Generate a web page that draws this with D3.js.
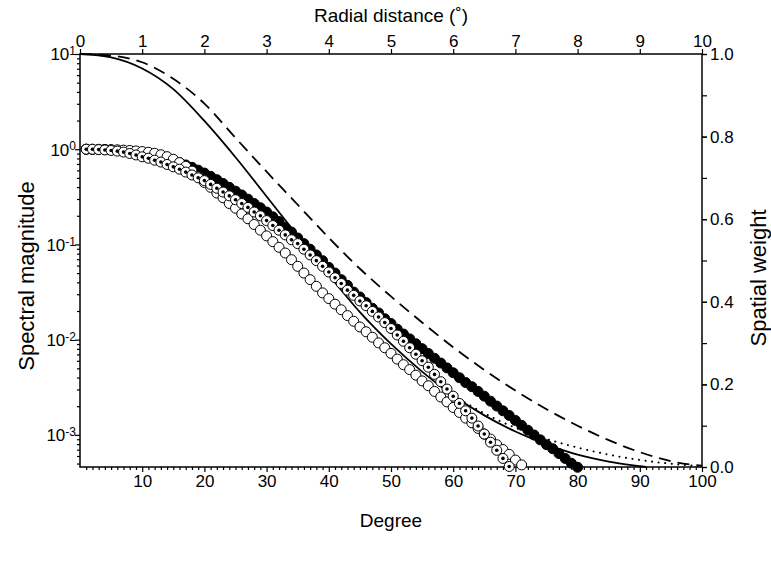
<!DOCTYPE html>
<html>
<head>
<meta charset="utf-8">
<script src="https://cdn.jsdelivr.net/npm/d3@7"></script>
<style>
  body { margin: 0; background: #fff; }
  text { font-family: "Liberation Sans", Arial, Helvetica, sans-serif; fill: #000; }
</style>
</head>
<body>
<svg id="chart" width="771" height="563"></svg>
<script>
// spectral magnitudes, one value per degree starting at degree 1
var filledMag = [1.000, 0.998, 0.995, 0.991, 0.984, 0.975, 0.964, 0.951, 0.933, 0.912,
    0.891, 0.865, 0.836, 0.804, 0.767, 0.724, 0.684, 0.646, 0.603, 0.562,
    0.519, 0.479, 0.437, 0.398, 0.363, 0.331, 0.299, 0.269, 0.243, 0.219,
    0.195, 0.174, 0.151, 0.135, 0.117, 0.102, 0.0891, 0.0776, 0.0676, 0.0575,
    0.0501, 0.0427, 0.0372, 0.0316, 0.0281, 0.0245, 0.0214, 0.0191, 0.0166, 0.0148,
    0.0129, 0.01146, 0.01019, 0.00906, 0.00805, 0.00716, 0.00637, 0.00568, 0.00505, 0.00449,
    0.00399, 0.00355, 0.00321, 0.00286, 0.00255, 0.00226, 0.00201, 0.00179, 0.00160, 0.00142,
    0.00126, 0.00112, 0.000998, 0.000887, 0.000789, 0.000716, 0.000637, 0.000566, 0.000504, 0.000457];

var dottedMag = [1.000, 0.998, 0.991, 0.982, 0.971, 0.955, 0.933, 0.902, 0.871, 0.832,
    0.804, 0.767, 0.733, 0.692, 0.653, 0.617, 0.575, 0.537, 0.501, 0.468,
    0.427, 0.389, 0.355, 0.324, 0.295, 0.269, 0.245, 0.219, 0.200, 0.178,
    0.158, 0.141, 0.126, 0.112, 0.102, 0.0891, 0.0776, 0.0676, 0.0589, 0.0513,
    0.0447, 0.0389, 0.0331, 0.0292, 0.0255, 0.0227, 0.0198, 0.0173, 0.0151, 0.0131,
    0.0112, 0.00961, 0.00822, 0.00703, 0.00601, 0.00514, 0.00432, 0.00362, 0.00303, 0.00255,
    0.00214, 0.00179, 0.00150, 0.00124, 0.00102, 0.000838, 0.000689, 0.000566, 0.000466];

var openMag = [1.000, 1.000, 0.998, 0.995, 0.991, 0.986, 0.979, 0.971, 0.959, 0.946,
    0.929, 0.906, 0.875, 0.836, 0.785, 0.724, 0.661, 0.589, 0.513, 0.447,
    0.398, 0.347, 0.309, 0.269, 0.240, 0.209, 0.186, 0.162, 0.141, 0.123,
    0.107, 0.0933, 0.0813, 0.0692, 0.0589, 0.0501, 0.0427, 0.0363, 0.0310, 0.0270,
    0.0236, 0.0206, 0.0179, 0.0156, 0.0136, 0.0121, 0.0106, 0.00925, 0.00822, 0.00718,
    0.00625, 0.00546, 0.00485, 0.00424, 0.00369, 0.00328, 0.00286, 0.00250, 0.00222, 0.00194,
    0.00172, 0.00150, 0.00134, 0.00117, 0.00102, 0.000904, 0.000789, 0.000702, 0.000624, 0.000544,
    0.000484];

// spatial weights against radial distance (degrees)
var solidR = [0, 0.5, 1, 1.5, 2, 2.5, 3, 3.5, 4, 4.5, 5, 5.5, 6, 6.5, 7, 7.5, 8, 8.5, 9, 9.1];
var solidW = [1.0, 0.992, 0.965, 0.915, 0.838, 0.75, 0.655, 0.56, 0.465, 0.375, 0.298, 0.231, 0.173, 0.125, 0.086, 0.055, 0.03, 0.013, 0.002, 0.0];
var dashR = [0, 0.5, 1, 1.5, 2, 2.5, 3, 3.5, 4, 4.5, 5, 5.5, 6, 6.5, 7, 7.5, 8, 8.5, 9, 9.5, 10];
var dashW = [1.0, 0.996, 0.98, 0.94, 0.88, 0.797, 0.715, 0.635, 0.555, 0.48, 0.413, 0.35, 0.29, 0.235, 0.185, 0.14, 0.10, 0.065, 0.036, 0.014, 0.003];
var dotR = [6, 6.5, 7, 7.5, 8, 8.5, 9, 9.5, 10];
var dotW = [0.173, 0.13, 0.095, 0.068, 0.047, 0.03, 0.017, 0.008, 0.002];

var degreeTicks = [10, 20, 30, 40, 50, 60, 70, 80, 90, 100];
var radialTicks = [0, 1, 2, 3, 4, 5, 6, 7, 8, 9, 10];
var weightTicks = [0, 0.2, 0.4, 0.6, 0.8, 1.0];
var magExponents = [1, 0, -1, -2, -3];

var svg = d3.select('#chart');
var margin = {left: 80, right: 69, top: 54, bottom: 96};
var width = 771, height = 563;
var innerW = width - margin.left - margin.right;
var innerH = height - margin.top - margin.bottom;

var g = svg.append('g').attr('transform', `translate(${margin.left},${margin.top})`);

var xDeg = d3.scaleLinear().domain([0, 100]).range([0, innerW]);
var xRad = d3.scaleLinear().domain([0, 10]).range([0, innerW]);
var yMag = d3.scaleLog().domain([4.6e-4, 10]).range([innerH, 0]);
var yW = d3.scaleLinear().domain([0, 1]).range([innerH, 0]);

// minor ticks on the log axis
var logMinor = [];
[-4, -3, -2, -1, 0].forEach(e => {
    [2, 3, 4, 5, 6, 7, 8, 9].forEach(m => {
        var v = m * Math.pow(10, e);
        if (v >= 4.6e-4 && v < 10) logMinor.push(v);
    });
});

function styleAxis(sel) {
    sel.select('.domain').remove();
    sel.selectAll('.tick line').attr('stroke', '#000').attr('stroke-width', 1.2);
    sel.selectAll('.tick text').style('font-size', '17px').attr('fill', '#000');
}

g.append('g').call(d3.axisLeft(yMag).tickValues(logMinor).tickSize(3).tickFormat('')).call(styleAxis);
var leftAxis = g.append('g').call(d3.axisLeft(yMag).tickValues(magExponents.map(e => Math.pow(10, e))).tickSize(5).tickFormat('')).call(styleAxis);
leftAxis.selectAll('.tick').each(function (d, i) {
    var t = d3.select(this).append('text')
        .attr('x', -4).attr('dy', '0.35em')
        .attr('text-anchor', 'end')
        .style('font-size', '17px');
    t.append('tspan').text('10');
    t.append('tspan').attr('dy', '-0.45em').style('font-size', '12px').text(magExponents[i] < 0 ? '-' + (-magExponents[i]) : magExponents[i]);
});

var bottomMinor = d3.range(1, 100).filter(d => d % 10 !== 0);
g.append('g').attr('transform', `translate(0,${innerH})`)
    .call(d3.axisBottom(xDeg).tickValues(bottomMinor).tickSize(3).tickFormat('')).call(styleAxis);
g.append('g').attr('transform', `translate(0,${innerH})`)
    .call(d3.axisBottom(xDeg).tickValues(degreeTicks).tickSize(5).tickPadding(3)).call(styleAxis);

g.append('g').call(d3.axisTop(xRad).tickValues(radialTicks).tickSize(5).tickPadding(2)).call(styleAxis);

g.append('g').attr('transform', `translate(${innerW},0)`)
    .call(d3.axisRight(yW).ticks(10).tickSize(5).tickFormat('')).call(styleAxis);
g.append('g').attr('transform', `translate(${innerW},0)`)
    .call(d3.axisRight(yW).tickValues(weightTicks).tickSize(5).tickPadding(3).tickFormat(d3.format('.1f'))).call(styleAxis);

// frame
g.append('rect').attr('width', innerW).attr('height', innerH)
    .attr('fill', 'none').attr('stroke', '#000').attr('stroke-width', 1.5);

// titles
svg.append('text').attr('x', margin.left + innerW / 2).attr('y', 22)
    .attr('text-anchor', 'middle').style('font-size', '19px').text('Radial distance (\u02DA)');
svg.append('text').attr('x', margin.left + innerW / 2).attr('y', 527)
    .attr('text-anchor', 'middle').style('font-size', '19px').text('Degree');
svg.append('text').attr('transform', 'translate(34,276) rotate(-90)')
    .attr('text-anchor', 'middle').style('font-size', '22px').text('Spectral magnitude');
svg.append('text').attr('transform', 'translate(766,278) rotate(-90)')
    .attr('text-anchor', 'middle').style('font-size', '22px').text('Spatial weight');

// weight curves
var wLine = d3.line().x(d => xRad(d[0])).y(d => yW(d[1])).curve(d3.curveMonotoneX);
var plot = g.append('g');
plot.append('path').datum(d3.zip(dotR, dotW)).attr('d', wLine)
    .attr('fill', 'none').attr('stroke', '#000').attr('stroke-width', 2)
    .attr('stroke-dasharray', '0.1,6.5').attr('stroke-linecap', 'round');
plot.append('path').datum(d3.zip(solidR, solidW)).attr('d', wLine)
    .attr('fill', 'none').attr('stroke', '#000').attr('stroke-width', 1.8);
plot.append('path').datum(d3.zip(dashR, dashW)).attr('d', wLine)
    .attr('fill', 'none').attr('stroke', '#000').attr('stroke-width', 1.8)
    .attr('stroke-dasharray', '12,7');

// spectral markers
var r = 5;
plot.selectAll('circle.filled').data(filledMag).join('circle')
    .attr('class', 'filled')
    .attr('cx', (d, i) => xDeg(i + 1)).attr('cy', d => yMag(d)).attr('r', r)
    .attr('fill', '#000').attr('stroke', '#000').attr('stroke-width', 1);
plot.selectAll('circle.open').data(openMag).join('circle')
    .attr('class', 'open')
    .attr('cx', (d, i) => xDeg(i + 1)).attr('cy', d => yMag(d)).attr('r', r)
    .attr('fill', '#fff').attr('stroke', '#000').attr('stroke-width', 1);
var ring = plot.selectAll('g.ring').data(dottedMag).join('g')
    .attr('class', 'ring')
    .attr('transform', (d, i) => `translate(${xDeg(i + 1)},${yMag(d)})`);
ring.append('circle').attr('r', r).attr('fill', '#fff').attr('stroke', '#000').attr('stroke-width', 1);
ring.append('circle').attr('r', 1.8).attr('fill', '#000');
</script>
</body>
</html>
